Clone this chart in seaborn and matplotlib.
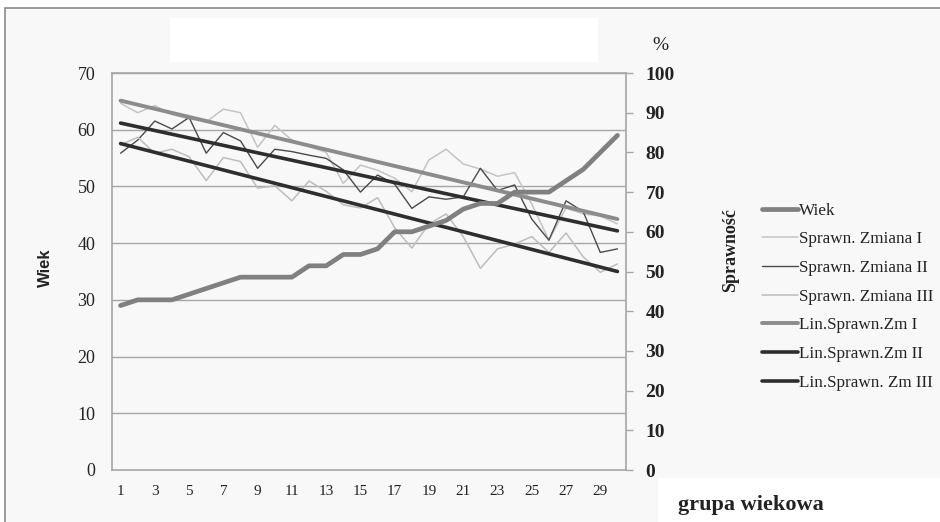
import numpy as np
import pandas as pd
import matplotlib
matplotlib.use("Agg")
import matplotlib.pyplot as plt
from matplotlib.patches import Rectangle
import seaborn as sns

# ---- data ----
grupa = list(range(1, 31))
wiek = [29, 30, 30, 30, 31, 32, 33, 34, 34, 34, 34, 36, 36, 38, 38,
        39, 42, 42, 43, 44, 46, 47, 47, 49, 49, 49, 51, 53, 56, 59]
zm1 = [92.4, 90.0, 91.8, 89.5, 88.5, 87.7, 90.9, 90.0, 81.3, 86.8,
       83.1, 81.5, 80.0, 72.2, 76.8, 75.5, 73.5, 70.1, 78.1, 80.8,
       77.1, 75.8, 74.0, 74.9, 67.0, 57.9, 66.0, 64.5, 64.0, 62.0]
zm2 = [79.8, 83.1, 87.9, 85.9, 88.8, 79.8, 85.0, 82.9, 76.0, 80.8,
       80.2, 79.3, 78.5, 75.6, 70.0, 74.3, 72.0, 65.9, 68.8, 68.2,
       68.8, 76.0, 70.4, 71.8, 63.2, 57.9, 67.8, 65.1, 54.8, 55.7]
zm3 = [81.9, 83.8, 79.8, 80.8, 78.9, 72.9, 78.7, 77.7, 71.0, 71.6,
       67.8, 72.8, 70.2, 66.8, 66.0, 68.6, 61.0, 55.9, 62.0, 64.5,
       58.8, 50.8, 55.7, 56.9, 58.8, 54.8, 59.7, 53.7, 49.8, 51.9]
x_ticks = list(range(1, 30, 2))
left_ticks = list(range(0, 71, 10))
right_ticks = list(range(0, 101, 10))
legend_labels = ["Wiek", "Sprawn. Zmiana I", "Sprawn. Zmiana II", "Sprawn. Zmiana III",
                 "Lin.Sprawn.Zm I", "Lin.Sprawn.Zm II", "Lin.Sprawn. Zm III"]

df = pd.DataFrame({"grupa": grupa, "wiek": wiek, "zm1": zm1, "zm2": zm2, "zm3": zm3})

sns.set_theme(style="white")
plt.rcParams["font.family"] = ["Liberation Serif", "DejaVu Serif"]

W, H = 940, 522
fig = plt.figure(figsize=(W / 100, H / 100), dpi=100, facecolor="white")

# background panel with border (left/top visible)
fig.add_artist(Rectangle((5 / W, -0.1), 1.1, (H - 8) / H + 0.1, transform=fig.transFigure,
                         facecolor="#f8f8f8", edgecolor="#8a8a8a", linewidth=1.2, zorder=0))
# white title placeholder and white label box
fig.add_artist(Rectangle((170 / W, 1 - 62 / H), 428 / W, 44 / H, transform=fig.transFigure,
                         facecolor="white", edgecolor="none", zorder=1))
fig.add_artist(Rectangle((658 / W, 0), 290 / W, 44 / H, transform=fig.transFigure,
                         facecolor="white", edgecolor="none", zorder=1))

ax = fig.add_axes([112 / W, 1 - 470 / H, (626 - 112) / W, (470 - 73) / H])
ax.set_facecolor("#f8f8f8")
ax2 = ax.twinx()

# left axis: Wiek
sns.lineplot(data=df, x="grupa", y="wiek", ax=ax, color="#808080", linewidth=3.4,
             label=legend_labels[0], legend=False, zorder=5)
# right axis: sprawność series
sns.lineplot(data=df, x="grupa", y="zm1", ax=ax2, color="#c4c4c4", linewidth=1.1,
             label=legend_labels[1], legend=False)
sns.lineplot(data=df, x="grupa", y="zm2", ax=ax2, color="#4a4a4a", linewidth=1.0,
             label=legend_labels[2], legend=False)
sns.lineplot(data=df, x="grupa", y="zm3", ax=ax2, color="#bdbdbd", linewidth=1.1,
             label=legend_labels[3], legend=False)
sns.regplot(data=df, x="grupa", y="zm1", ax=ax2, scatter=False, ci=None, truncate=True,
            line_kws=dict(color="#8c8c8c", linewidth=2.8), label=legend_labels[4])
sns.regplot(data=df, x="grupa", y="zm2", ax=ax2, scatter=False, ci=None, truncate=True,
            line_kws=dict(color="#2e2e2e", linewidth=2.6), label=legend_labels[5])
sns.regplot(data=df, x="grupa", y="zm3", ax=ax2, scatter=False, ci=None, truncate=True,
            line_kws=dict(color="#2e2e2e", linewidth=2.6), label=legend_labels[6])

# put wiek line above
ax.set_zorder(ax2.get_zorder() + 1)
ax.patch.set_visible(False)
ax2.patch.set_visible(True)
ax2.set_facecolor("#f8f8f8")

ax.set_xlim(0.5, 30.5)
ax.set_ylim(0, 70)
ax2.set_ylim(0, 100)
ax.set_yticks(left_ticks)
ax2.set_yticks(right_ticks)
ax.set_xticks(x_ticks)
ax.set_xticklabels([str(t) for t in x_ticks])
ax.set_xlabel("")
ax.set_ylabel("")
ax2.set_ylabel("")

ax2.yaxis.grid(False)
ax.yaxis.grid(False)
for t in left_ticks[1:]:
    ax2.axhline(t / 70 * 100, color="#a6a6a6", linewidth=1.0, zorder=0)

for a in (ax, ax2):
    for s in a.spines.values():
        s.set_color("#a6a6a6")
        s.set_linewidth(1.2)
ax.spines["right"].set_visible(False)
ax2.spines["left"].set_visible(False)
ax2.spines["bottom"].set_visible(False)
ax2.spines["top"].set_visible(False)
ax2.spines["right"].set_color("#a6a6a6")

ax.tick_params(axis="y", length=0, pad=12, labelsize=13, labelcolor="#222222")
ax.tick_params(axis="x", length=0, pad=11, labelsize=11, labelcolor="#222222")
ax2.tick_params(axis="y", right=True, length=5, width=1, color="#a6a6a6", pad=9,
                labelsize=14, labelcolor="#222222", direction="out")
for lab in ax2.get_yticklabels():
    lab.set_fontweight("bold")

fig.text(45 / W, 1 - 268 / H, "Wiek", rotation=90, ha="center", va="center",
         fontsize=12, fontweight="bold", family=["Liberation Sans", "DejaVu Sans"], color="#222222")
fig.text(731 / W, 1 - 250 / H, "Sprawność", rotation=90, ha="center", va="center",
         fontsize=13, fontweight="bold", color="#222222")
fig.text(660 / W, 1 - 45 / H, "%", ha="center", va="center", fontsize=14, color="#222222")
fig.text(678 / W, 1 - 505 / H, "grupa wiekowa", ha="left", va="center", fontsize=16,
         fontweight="bold", color="#222222", zorder=3)

h1, l1 = ax.get_legend_handles_labels()
h2, l2 = ax2.get_legend_handles_labels()
leg = fig.legend(h1 + h2, l1 + l2, loc="upper left", bbox_to_anchor=(755 / W, 1 - 196 / H),
                 frameon=False, fontsize=12.3, handlelength=2.1, handletextpad=0.05,
                 labelspacing=0.74, borderaxespad=0)
for t in leg.get_texts():
    t.set_color("#222222")

fig.savefig("out.png", dpi=100, facecolor="white")
